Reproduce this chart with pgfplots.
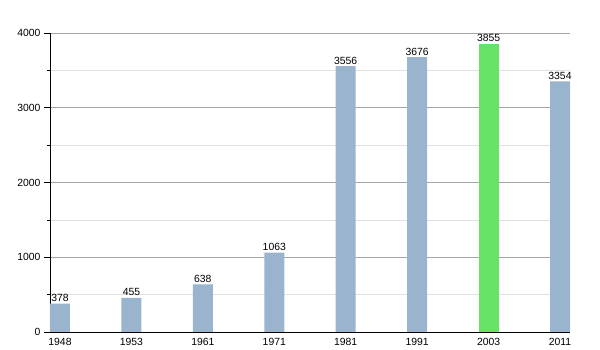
\documentclass[border=0pt]{standalone}
\usepackage{fontspec}
\setmainfont{Liberation Sans}
\usepackage{pgfplots}
\pgfplotsset{compat=1.18}
\definecolor{barblue}{RGB}{154,180,206}
\definecolor{bargreen}{RGB}{102,226,102}
\begin{document}
\begin{tikzpicture}[x=1pt,y=1pt]
\useasboundingbox (-50pt,-18pt) rectangle (550pt,332pt);
\begin{axis}[
  at={(0,0)}, anchor=south west,
  scale only axis, width=520pt, height=299pt,
  xmin=-0.14, xmax=7.14, ymin=0, ymax=4000,
  axis x line*=bottom, axis y line*=left,
  axis line style={black, line width=0.8pt},
  xtick={0,...,7}, xticklabels={1948,1953,1961,1971,1981,1991,2003,2011},
  xtick style={draw=none},
  ytick={0,1000,2000,3000,4000},
  minor ytick={500,1500,2500,3500},
  ymajorgrids, yminorgrids,
  major grid style={color=black!35, line width=0.6pt},
  minor grid style={color=black!12, line width=0.6pt},
  tick align=outside,
  major tick length=6pt, minor tick length=3pt,
  ytick style={black, line width=0.6pt},
  tick label style={font=\fontsize{10.4}{12}\selectfont},
  /pgf/number format/assume math mode=true,
  /pgf/number format/set thousands separator={},
  xticklabel style={yshift=3pt},
  ybar, bar width=20pt, bar shift=0pt,
  nodes near coords,
  every node near coord/.append style={font=\fontsize{10.4}{12}\selectfont, yshift=-1.5pt},
  clip=false,
]
\addplot[fill=barblue, draw=none] coordinates {(0,378) (1,455) (2,638) (3,1063) (4,3556) (5,3676) (7,3354)};
\addplot[fill=bargreen, draw=none] coordinates {(6,3855)};
\end{axis}
\end{tikzpicture}
\end{document}
